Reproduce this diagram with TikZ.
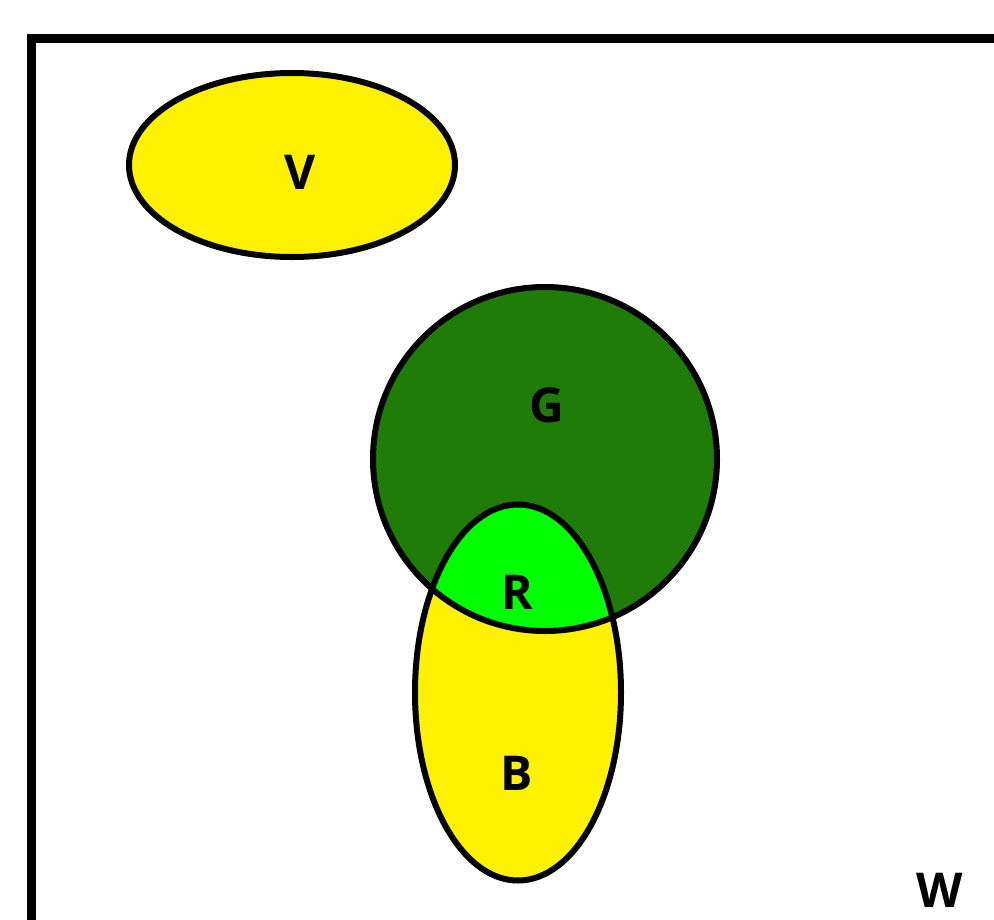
\documentclass[tikz,border=0pt]{standalone}
\usepackage{fontspec}
\setmainfont{Open Sans}
\definecolor{setyellow}{HTML}{FFF200}
\definecolor{setdark}{HTML}{1F7D07}
\definecolor{setbright}{HTML}{00FF00}
\begin{document}
\begin{tikzpicture}[x=1pt,y=-1pt,
  outline/.style={draw=black,line width=6pt},
  setlabel/.style={inner sep=0pt,font=\fontsize{48}{48}\selectfont\bfseries}]
\useasboundingbox (0,0) rectangle (994,919);
% universe frame, running off the right and bottom edges
\draw[line width=9pt] (31.5,960) -- (31.5,38.5) -- (1040,38.5);
% sets
\fill[setyellow] (292,165) ellipse [x radius=163, y radius=92];
\fill[setdark] (545,459) circle [radius=172];
\fill[setyellow] (518,692.5) ellipse [x radius=103, y radius=188];
\begin{scope}
  \clip (545,459) circle [radius=172];
  \fill[setbright] (518,692.5) ellipse [x radius=103, y radius=188];
\end{scope}
\draw[outline] (292,165) ellipse [x radius=163, y radius=92];
\draw[outline] (545,459) circle [radius=172];
\draw[outline] (518,692.5) ellipse [x radius=103, y radius=188];
% labels
\node[setlabel] (v) at (300,172) {V};
\node[setlabel] (g) at (547,405) {G};
\node[setlabel] (r) at (517,592) {R};
\node[setlabel] (b) at (517,773) {B};
\node[setlabel] (w) at (940,890) {W};
\end{tikzpicture}
\end{document}
